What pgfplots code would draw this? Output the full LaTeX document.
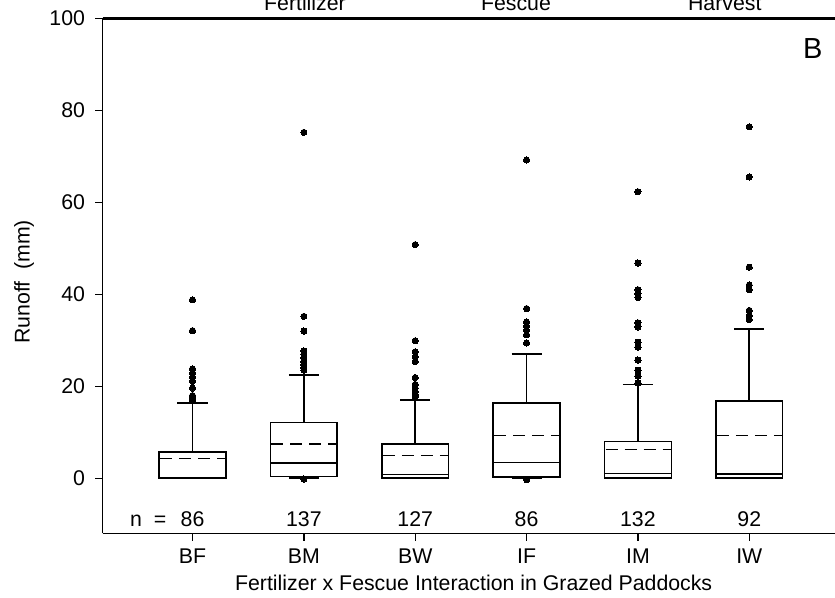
\documentclass[border=0pt]{standalone}
\usepackage{fontspec}
\setmainfont{Liberation Sans}
\usepackage{pgfplots}
\pgfplotsset{compat=1.18}
\usepgfplotslibrary{statistics}
\newcommand{\tf}{\fontsize{21.3}{23}\selectfont}
\begin{document}
\begin{tikzpicture}
\begin{axis}[
  scale only axis,
  width=732.3pt, height=515pt,
  xmin=-0.8065, xmax=5.77,
  ymin=-11.96, ymax=100,
  axis lines*=left,
  axis line style={-, line width=1.6pt, black},
  clip=false,
  tick align=outside,
  major tick length=7.5pt,
  tick style={black, line width=1.3pt},
  ytick={0,20,40,60,80,100},
  xtick={0,1,2,3,4,5},
  xticklabels={BF,BM,BW,IF,IM,IW},
  /pgf/number format/assume math mode=true,
  ticklabel style={font=\tf},
  yticklabel style={anchor=east, inner sep=0pt, xshift=-10pt},
  xticklabel style={anchor=base, inner sep=0pt, yshift=-22.5pt},
  boxplot/draw direction=y,
  boxplot/draw/average/.code={\draw[line width=1.3pt, dash pattern=on 12pt off 7pt, dash phase=-1pt] (boxplot box cs:\pgfplotsboxplotvalue{average},0) -- (boxplot box cs:\pgfplotsboxplotvalue{average},1);},
  every axis plot/.append style={black, solid, line width=1.6pt, mark=*, mark size=3.1pt, mark options={solid, fill=black, draw=black, line width=0pt}},
]
% BF
\addplot[boxplot prepared={draw position=0, lower whisker=0, lower quartile=0, median=0.15, average=4.35, upper quartile=5.7, upper whisker=16.4, box extend=0.6, whisker extend=0.27}]
  table[row sep=\\, y index=0] {data\\ 38.8\\ 32.1\\ 23.8\\ 22.9\\ 22.0\\ 21.1\\ 19.6\\ 18.0\\ 17.5\\ 17.1\\};
% BM
\addplot[boxplot prepared={draw position=1, lower whisker=0.05, lower quartile=0.43, median=3.26, average=7.47, upper quartile=12.1, upper whisker=22.4, box extend=0.6, whisker extend=0.27}]
  table[row sep=\\, y index=0] {data\\ 75.2\\ 35.2\\ 32.0\\ 27.7\\ 27.0\\ 26.2\\ 25.4\\ 24.7\\ 24.0\\ 23.5\\ -0.15\\};
% BW
\addplot[boxplot prepared={draw position=2, lower whisker=0, lower quartile=0, median=0.8, average=4.93, upper quartile=7.39, upper whisker=16.96, box extend=0.6, whisker extend=0.27}]
  table[row sep=\\, y index=0] {data\\ 50.8\\ 29.9\\ 27.5\\ 26.4\\ 25.4\\ 21.9\\ 20.4\\ 19.6\\ 18.9\\ 18.2\\ 17.7\\};
% IF
\addplot[boxplot prepared={draw position=3, lower whisker=0.05, lower quartile=0.3, median=3.4, average=9.35, upper quartile=16.4, upper whisker=27.0, box extend=0.6, whisker extend=0.27}]
  table[row sep=\\, y index=0] {data\\ 69.2\\ 36.9\\ 34.0\\ 33.1\\ 32.2\\ 31.2\\ 29.4\\ -0.3\\};
% IM
\addplot[boxplot prepared={draw position=4, lower whisker=0, lower quartile=0.07, median=1.0, average=6.3, upper quartile=8.04, upper whisker=20.4, box extend=0.6, whisker extend=0.27}]
  table[row sep=\\, y index=0] {data\\ 62.3\\ 46.8\\ 41.0\\ 40.1\\ 39.3\\ 33.8\\ 32.9\\ 29.6\\ 28.5\\ 25.7\\ 23.5\\ 22.2\\ 20.7\\};
% IW
\addplot[boxplot prepared={draw position=5, lower whisker=0, lower quartile=0, median=0.95, average=9.35, upper quartile=16.8, upper whisker=32.5, box extend=0.6, whisker extend=0.27}]
  table[row sep=\\, y index=0] {data\\ 76.4\\ 65.5\\ 45.9\\ 42.0\\ 41.0\\ 36.5\\ 35.4\\ 34.5\\};

\draw[line width=2.8pt, black] (rel axis cs:0,1) -- (rel axis cs:1,1);
\coordinate (ll) at (rel axis cs:0,0);
\coordinate (ur) at (rel axis cs:1,1);

% n labels
\node[anchor=base, font=\tf] at (axis cs:-0.507,-10.43) {n};
\node[anchor=base, font=\tf] at (axis cs:-0.29,-10.43) {=};
\node[anchor=base, font=\tf] at (axis cs:0,-10.43) {86};
\node[anchor=base, font=\tf] at (axis cs:1,-10.43) {137};
\node[anchor=base, font=\tf] at (axis cs:2,-10.43) {127};
\node[anchor=base, font=\tf] at (axis cs:3,-10.43) {86};
\node[anchor=base, font=\tf] at (axis cs:4,-10.43) {132};
\node[anchor=base, font=\tf] at (axis cs:5,-10.43) {92};

% header labels (cut off at top, as in the reference)
\node[anchor=base, font=\tf] at (axis cs:1.01,101.7) {Fertilizer};
\node[anchor=base, font=\tf] at (axis cs:2.905,101.7) {Fescue};
\node[anchor=base, font=\tf] at (axis cs:4.78,101.7) {Harvest};

% panel label
\node[anchor=center, font=\fontsize{29}{31}\selectfont] at (axis cs:5.57,93.4) {B};

% axis titles
\node[anchor=base, font=\tf] at (axis cs:2.525,-24.3) {Fertilizer x Fescue Interaction in Grazed Paddocks};
\node[anchor=center, rotate=90, font=\tf] at ([xshift=-78.7pt]axis cs:-0.8065,42.7) {Runoff\ \ (mm)};
\end{axis}
\pgfresetboundingbox
\path[use as bounding box] ([shift={(-102.7pt,-63.7pt)}]ll) rectangle ([shift={(0pt,18.3pt)}]ur);
\end{tikzpicture}
\end{document}
